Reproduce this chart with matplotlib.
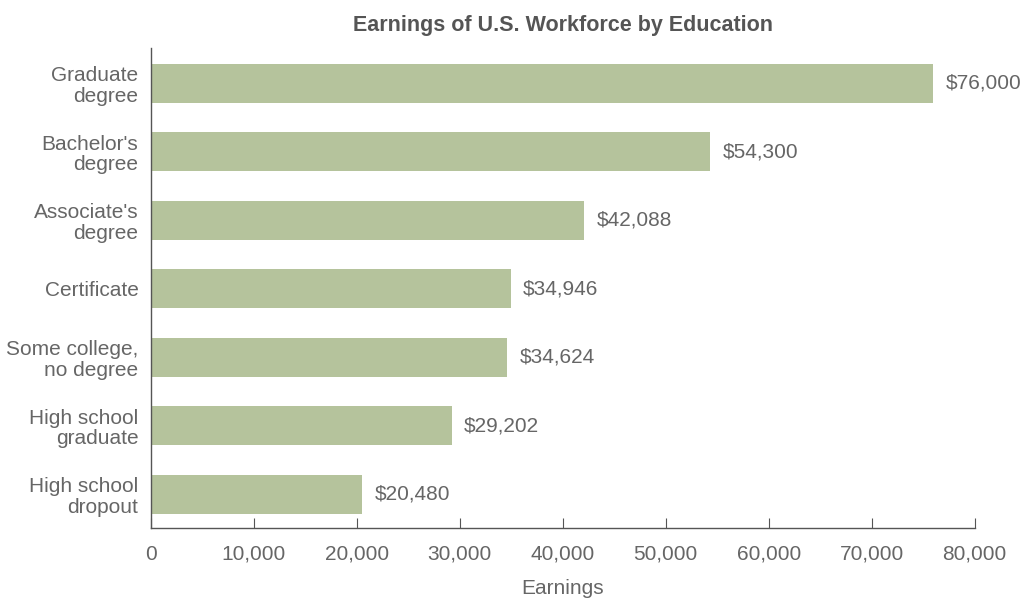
import matplotlib.pyplot as plt
from matplotlib.ticker import FuncFormatter

plt.rcParams['font.family'] = ['Liberation Sans', 'DejaVu Sans']

# data (bottom to top)
categories = ['High school\ndropout', 'High school\ngraduate', 'Some college,\nno degree',
              'Certificate', "Associate's\ndegree", "Bachelor's\ndegree", 'Graduate\ndegree']
earnings = [20480, 29202, 34624, 34946, 42088, 54300, 76000]

bar_color = '#b5c39c'
text_color = '#666666'
fs = 15

fig = plt.figure(figsize=(10.27, 6.02), dpi=100)
ax = fig.add_axes([0.147, 0.123, 0.802, 0.797])

ypos = range(len(categories))
ax.barh(ypos, earnings, height=0.57, color=bar_color)

for y, v in zip(ypos, earnings):
    ax.annotate(f'${v:,}', (v, y), xytext=(9, 0), textcoords='offset points',
                va='center', ha='left', fontsize=fs, color=text_color)

ax.set_xlim(0, 80000)
ax.set_ylim(-0.49, 6.51)
ax.set_xticks(range(0, 80001, 10000))
ax.xaxis.set_major_formatter(FuncFormatter(lambda x, p: f'{int(x):,}'))
ax.set_yticks(list(ypos))
ax.set_yticklabels(categories, linespacing=1.1)

for s in ['top', 'right']:
    ax.spines[s].set_visible(False)
for s in ['left', 'bottom']:
    ax.spines[s].set_color('#555555')
    ax.spines[s].set_linewidth(1.0)

ax.tick_params(axis='x', direction='in', length=7, color='#555555',
               labelsize=fs, labelcolor=text_color, pad=12)
ax.tick_params(axis='y', length=0, labelsize=fs, labelcolor=text_color, pad=9)

ax.set_xlabel('Earnings', fontsize=fs, color=text_color, labelpad=11)
ax.set_title('Earnings of U.S. Workforce by Education', fontsize=15.5,
             fontweight='bold', color='#555555', pad=12)

fig.savefig('out.png', dpi=100)
